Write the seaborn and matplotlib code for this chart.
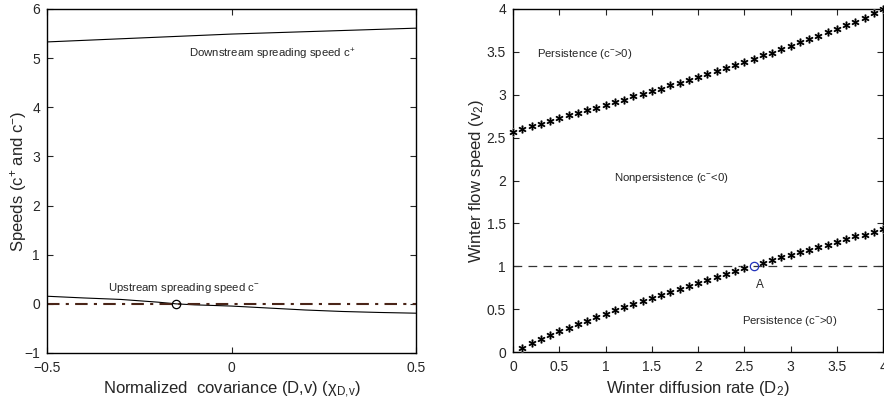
import numpy as np
import pandas as pd
import matplotlib
matplotlib.use("Agg")
import matplotlib.pyplot as plt
import seaborn as sns
from matplotlib.ticker import FuncFormatter

# left panel: spreading speeds vs normalized covariance
chi_plus = [-0.5, -0.25, 0.0, 0.25, 0.5]
c_plus = [5.33, 5.41, 5.49, 5.55, 5.61]
chi_minus = [-0.5, -0.4, -0.3, -0.2, -0.15, -0.1, 0.0, 0.1, 0.2, 0.3, 0.4, 0.5]
c_minus = [0.155, 0.12, 0.09, 0.035, 0.0, -0.02, -0.045, -0.085, -0.125, -0.155, -0.175, -0.19]
crossing = (-0.15, 0.0)

# right panel: persistence boundaries in (D2, v2)
d_upper = [round(0.1 * i, 1) for i in range(41)]
v_upper = [2.57, 2.60, 2.63, 2.66, 2.69, 2.73, 2.76, 2.79, 2.82, 2.85,
           2.88, 2.91, 2.94, 2.98, 3.01, 3.04, 3.07, 3.11, 3.14, 3.17,
           3.21, 3.24, 3.28, 3.31, 3.35, 3.38, 3.42, 3.46, 3.49, 3.53,
           3.57, 3.61, 3.65, 3.69, 3.73, 3.77, 3.81, 3.85, 3.89, 3.95, 4.00]
d_lower = [0.1, 0.2, 0.3, 0.4, 0.5, 0.6, 0.7, 0.8, 0.9, 1.0,
           1.1, 1.2, 1.3, 1.4, 1.5, 1.6, 1.7, 1.8, 1.9, 2.0,
           2.1, 2.2, 2.3, 2.4, 2.5, 2.7, 2.8, 2.9, 3.0,
           3.1, 3.2, 3.3, 3.4, 3.5, 3.6, 3.7, 3.8, 3.9, 4.0]
v_lower = [0.05, 0.105, 0.155, 0.20, 0.245, 0.285, 0.325, 0.365, 0.405, 0.445,
           0.485, 0.525, 0.56, 0.60, 0.635, 0.67, 0.705, 0.74, 0.775, 0.805,
           0.84, 0.875, 0.91, 0.945, 0.975, 1.035, 1.075, 1.11, 1.135,
           1.165, 1.195, 1.22, 1.25, 1.28, 1.315, 1.35, 1.37, 1.40, 1.44]
point_a = (2.6, 1.0)


def fmt(v, pos):
    return ("%g" % v).replace("-", "\u2212")


def style_axes(ax):
    ax.tick_params(direction="in", top=True, right=True, length=4, width=0.8,
                   labelsize=10)
    ax.tick_params(axis="x", pad=6)
    ax.tick_params(axis="y", pad=5)
    for s in ax.spines.values():
        s.set_visible(True)
        s.set_linewidth(1.0)
        s.set_color("black")
    ax.xaxis.set_major_formatter(FuncFormatter(fmt))
    ax.yaxis.set_major_formatter(FuncFormatter(fmt))


sns.set_style("ticks")
plt.rcParams["font.family"] = ["Liberation Sans", "DejaVu Sans"]
plt.rcParams["mathtext.fontset"] = "custom"
plt.rcParams["mathtext.rm"] = "Liberation Sans"
plt.rcParams["mathtext.it"] = "Liberation Sans:italic"

fig = plt.figure(figsize=(8.84, 4.04), dpi=100)
ax1 = fig.add_axes([47 / 884, 51 / 404, 369 / 884, 344 / 404])
ax2 = fig.add_axes([513 / 884, 52 / 404, 370 / 884, 343 / 404])

# ---- left
df_plus = pd.DataFrame({"chi": chi_plus, "c": c_plus})
df_minus = pd.DataFrame({"chi": chi_minus, "c": c_minus})
sns.lineplot(data=df_plus, x="chi", y="c", ax=ax1, color="black", lw=0.8)
sns.lineplot(data=df_minus, x="chi", y="c", ax=ax1, color="black", lw=0.8)
ax1.axhline(0, color="#4a2518", lw=1.5, ls=(0, (6, 3, 1.5, 3)))
ax1.plot([crossing[0]], [crossing[1]], marker="o", ms=6, mfc="none",
         mec="black", mew=0.9)
ax1.set_xlim(-0.5, 0.5)
ax1.set_ylim(-1, 6)
ax1.set_xticks([-0.5, 0, 0.5])
ax1.set_yticks(range(-1, 7))
ax1.text(-0.115, 5.07, "Downstream spreading speed c$^{+}$", fontsize=8.2, va="center")
ax1.text(-0.335, 0.33, "Upstream spreading speed c$^{-}$", fontsize=8.2, va="center")
ax1.set_xlabel("Normalized  covariance (D,v) ($\\mathregular{\u03c7_{D{,}v}}$)", fontsize=12, labelpad=3.5)
ax1.set_ylabel("Speeds (c$^{+}$ and c$^{-}$)", fontsize=12)
ax1.yaxis.set_label_coords(-0.05, 0.5)
style_axes(ax1)

# ---- right
df_up = pd.DataFrame({"D2": d_upper, "v2": v_upper})
df_lo = pd.DataFrame({"D2": d_lower, "v2": v_lower})
ax2.axhline(1.0, color="#333333", lw=0.9, ls=(0, (7, 5)))
for d in (df_up, df_lo):
    sns.scatterplot(data=d, x="D2", y="v2", ax=ax2, marker=(6, 2, 0), s=22,
                    color="#8a8a8a", linewidth=1.5, edgecolor="#8a8a8a", zorder=3,
                    clip_on=False)
    sns.scatterplot(data=d, x="D2", y="v2", ax=ax2, marker=(6, 2, 0), s=22,
                    color="black", linewidth=0.8, edgecolor="black", zorder=4,
                    clip_on=False)
ax2.plot([point_a[0]], [point_a[1]], marker="o", ms=6, mfc="none",
         mec="#2233bb", mew=0.9, zorder=5)
ax2.set_xlim(0, 4)
ax2.set_ylim(0, 4)
ax2.set_xticks(np.arange(0, 4.01, 0.5))
ax2.set_yticks(np.arange(0, 4.01, 0.5))
ax2.text(0.26, 3.48, "Persistence (c$^{-}$>0)", fontsize=8.2, va="center")
ax2.text(1.09, 2.03, "Nonpersistence (c$^{-}$<0)", fontsize=8.2, va="center")
ax2.text(2.67, 0.78, "A", fontsize=8.5, va="center", ha="center")
ax2.text(2.48, 0.36, "Persistence (c$^{-}$>0)", fontsize=8.2, va="center")
ax2.set_xlabel("Winter diffusion rate (D$_{2}$)", fontsize=12, labelpad=3.5)
ax2.set_ylabel("Winter flow speed (v$_{2}$)", fontsize=12)
ax2.yaxis.set_label_coords(-0.072, 0.5)
style_axes(ax2)

fig.savefig("out.png", dpi=100)
